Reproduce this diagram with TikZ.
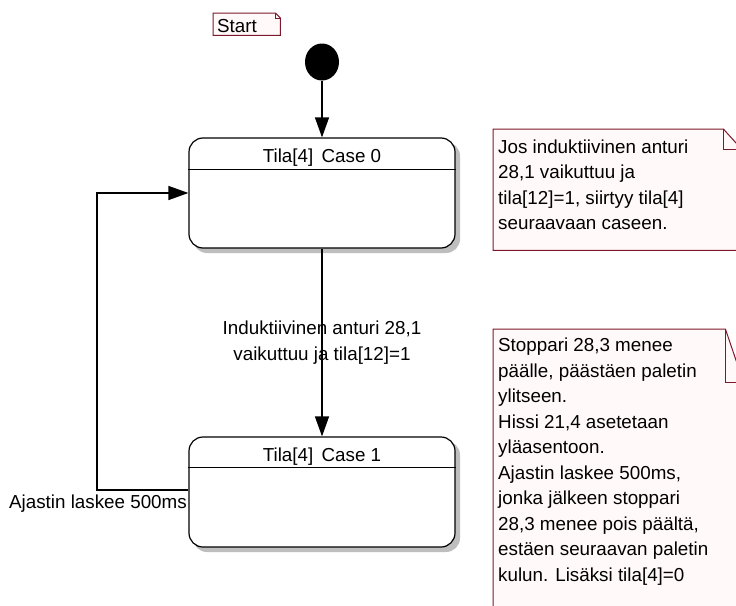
\documentclass[tikz,border=0pt]{standalone}
\usepackage{fontspec}
\setmainfont{Liberation Sans}
\usetikzlibrary{arrows.meta,shapes.geometric}
\definecolor{notedraw}{RGB}{125,25,45}
\definecolor{notefill}{RGB}{255,249,250}
\definecolor{shadegray}{RGB}{190,190,190}
\tikzset{
  flow/.style={draw=black, line width=1.3pt, -{Triangle[length=20pt,width=14pt]}},
  statebox/.style={draw=black, line width=1.2pt, rounded corners=14pt, fill=white,
    minimum width=266pt, minimum height=110pt, inner sep=0pt},
  stateshadow/.style={fill=shadegray, rounded corners=14pt},
  stateline/.style={draw=black, line width=1.2pt},
  notebody/.style={inner sep=0pt, anchor=north west},
  noteline/.style={draw=notedraw, fill=notefill, line width=1pt, line join=miter},
  foldline/.style={draw=notedraw, line width=1pt},
  txt/.style={inner sep=0pt, text=black},
  blocktxt/.style={txt, align=left, anchor=north west},
}
\begin{document}
\begin{tikzpicture}[x=1pt, y=-1pt, font=\fontsize{18.8}{25.5}\selectfont]
\useasboundingbox (0,0) rectangle (736,605);
\fill[white] (0,0) rectangle (736,605);

% "Start" note
\node[notebody, minimum width=67pt, minimum height=22pt] (startnote) at (213,13) {};
\draw[noteline] (startnote.north west) -- ([xshift=-5pt]startnote.north east)
  -- ([yshift=-5pt]startnote.north east) -- (startnote.south east)
  -- (startnote.south west) -- cycle;
\draw[foldline] ([xshift=-5pt]startnote.north east) -- ([xshift=-5pt,yshift=-5pt]startnote.north east)
  -- ([yshift=-5pt]startnote.north east);
\node[txt, anchor=base west] (starttxt) at (217,32) {Start};

% initial pseudo-state
\node[ellipse, fill=black, minimum width=34pt, minimum height=37pt, inner sep=0pt] (init) at (322,62) {};

% soft shadows under the two states
\fill[stateshadow] (193,142) rectangle (460,253);
\fill[stateshadow] (193,441) rectangle (460,552);

% states
\node[statebox] (s0) at (322,193) {};
\draw[stateline] ([yshift=-32pt]s0.north west) -- ([yshift=-32pt]s0.north east);
\node[txt, anchor=base] (s0title) at ([yshift=-25pt]s0.north) {Tila[4]\, Case 0};

\node[statebox] (s1) at (322,492) {};
\draw[stateline] ([yshift=-31pt]s1.north west) -- ([yshift=-31pt]s1.north east);
\node[txt, anchor=base] (s1title) at ([yshift=-25pt]s1.north) {Tila[4]\, Case 1};

% transitions
\draw[flow] (init) -- (s0);
\draw[flow] (s0) -- (s1);
\node[txt, align=center, anchor=north] (t01) at (322,321)
  {Induktiivinen anturi 28,1\\vaikuttuu ja tila[12]=1};

\coordinate (loopbot) at (97,490);
\coordinate (looptop) at (97,193);
\draw[flow] (s1.west |- loopbot) -- (loopbot) -- (looptop) -- (s0.west |- looptop);
\node[txt, anchor=base east] (t10) at (187,508) {Ajastin laskee 500ms};

% note beside Case 0
\node[notebody, minimum width=248pt, minimum height=121pt] (note1) at (493,129) {};
\draw[noteline] (note1.north west) -- ([xshift=-18pt]note1.north east)
  -- ([yshift=-20pt]note1.north east) -- (note1.south east)
  -- (note1.south west) -- cycle;
\draw[foldline] ([xshift=-18pt]note1.north east) -- ([xshift=-18pt,yshift=-20pt]note1.north east)
  -- ([yshift=-20pt]note1.north east);
\node[blocktxt] (note1txt) at (498,139.5)
  {Jos induktiivinen anturi\\28,1 vaikuttuu ja\\tila[12]=1, siirtyy tila[4]\\seuraavaan caseen.};

% note beside Case 1
\node[notebody, minimum width=250pt, minimum height=300pt] (note2) at (493,329) {};
\draw[noteline] (note2.north west) -- ([xshift=-18pt]note2.north east)
  -- ([yshift=-53pt]note2.north east) -- (note2.south east)
  -- (note2.south west) -- cycle;
\draw[foldline] ([xshift=-18pt]note2.north east) -- ([xshift=-18pt,yshift=-53pt]note2.north east)
  -- ([yshift=-53pt]note2.north east);
\node[blocktxt] (note2txt) at (498,338)
  {Stoppari 28,3 menee\\p\"a\"alle, p\"a\"ast\"aen paletin\\ylitseen.\\Hissi 21,4 asetetaan\\yl\"aasentoon.\\Ajastin laskee 500ms,\\jonka j\"alkeen stoppari\\28,3 menee pois p\"a\"alt\"a,\\est\"aen seuraavan paletin\\kulun. Lis\"aksi tila[4]=0};
\end{tikzpicture}
\end{document}
